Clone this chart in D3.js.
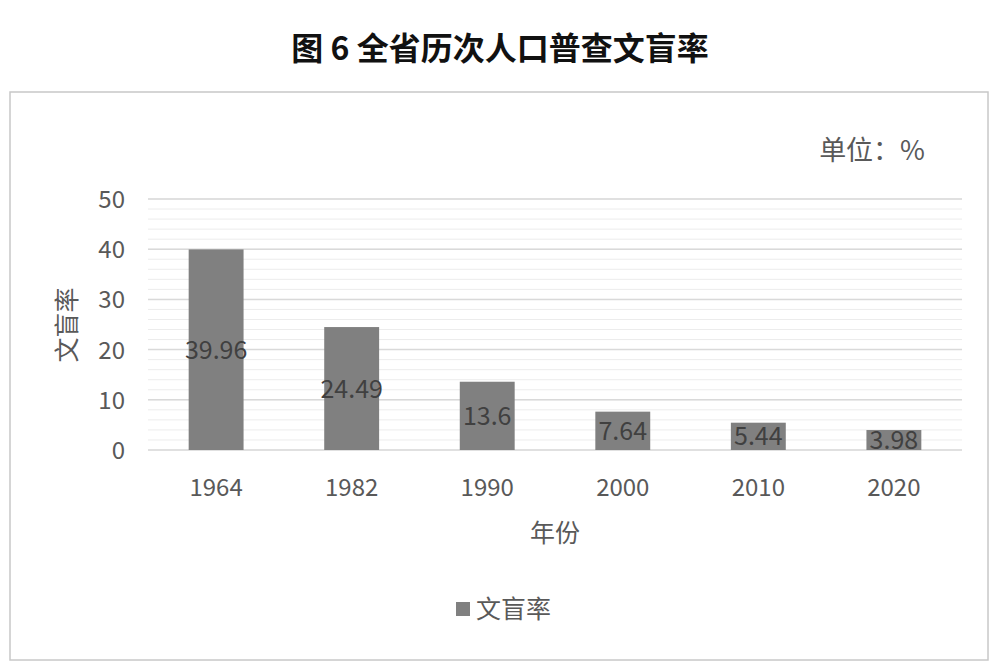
<!DOCTYPE html>
<html><head><meta charset="utf-8">
<script src="https://cdnjs.cloudflare.com/ajax/libs/d3/7.8.5/d3.min.js"></script>
<style>body{margin:0;background:#fff}text{font-family:"Noto Sans CJK SC","Noto Sans",sans-serif}</style>
</head><body><div id="graph"></div>
<script>
var years = ["1964", "1982", "1990", "2000", "2010", "2020"];
var rates = [39.96, 24.49, 13.6, 7.64, 5.44, 3.98];
var yTicks = [0, 10, 20, 30, 40, 50];

var svg = d3.select('#graph').append('svg').attr('width', 1000).attr('height', 669);

svg.append('text').attr('x', 500).attr('y', 60).attr('text-anchor', 'middle')
	.attr('font-size', 32).attr('font-weight', 'bold').attr('fill', '#111').text('图 6  全省历次人口普查文盲率');

svg.append('rect').attr('x', 10).attr('y', 92).attr('width', 978).attr('height', 568)
	.attr('fill', 'none').attr('stroke', '#c8c8c8').attr('stroke-width', 1.5);

svg.append('text').attr('x', 925).attr('y', 160).attr('text-anchor', 'end')
	.attr('font-size', 27).attr('fill', '#595959').text('单位：%');

var x = d3.scaleBand().domain(years).range([148, 962]).paddingInner(0.595).paddingOuter(0.3);
var y = d3.scaleLinear().domain([0, 50]).range([450, 199]);

// minor gridlines every 2
svg.selectAll('line.minor').data(d3.range(0, 51, 2)).enter().append('line')
	.attr('x1', 148).attr('x2', 962).attr('y1', d => y(d)).attr('y2', d => y(d))
	.attr('stroke', '#ececec').attr('stroke-width', 1);
svg.selectAll('line.major').data(yTicks).enter().append('line')
	.attr('x1', 148).attr('x2', 962).attr('y1', d => y(d)).attr('y2', d => y(d))
	.attr('stroke', '#d9d9d9').attr('stroke-width', 1.5);

svg.selectAll('text.yt').data(yTicks).enter().append('text')
	.attr('x', 125).attr('y', d => y(d) + 9).attr('text-anchor', 'end')
	.attr('font-size', 24).attr('fill', '#595959').text(d => d);

svg.selectAll('rect.bar').data(rates).enter().append('rect')
	.attr('x', (d, i) => x(years[i])).attr('width', x.bandwidth())
	.attr('y', d => y(d)).attr('height', d => y(0) - y(d)).attr('fill', '#808080');

svg.selectAll('text.lbl').data(rates).enter().append('text')
	.attr('x', (d, i) => x(years[i]) + x.bandwidth() / 2).attr('y', d => y(d / 2) + 9)
	.attr('text-anchor', 'middle').attr('font-size', 25).attr('fill', '#404040').text(d => d);

svg.selectAll('text.xt').data(years).enter().append('text')
	.attr('x', d => x(d) + x.bandwidth() / 2).attr('y', 496).attr('text-anchor', 'middle')
	.attr('font-size', 24).attr('fill', '#595959').text(d => d);

svg.append('text').attr('x', 555).attr('y', 542).attr('text-anchor', 'middle')
	.attr('font-size', 25).attr('fill', '#595959').text('年份');

svg.append('text').attr('transform', 'translate(76,325) rotate(-90)').attr('text-anchor', 'middle')
	.attr('font-size', 25).attr('fill', '#595959').text('文盲率');

svg.append('rect').attr('x', 456).attr('y', 602).attr('width', 14).attr('height', 14).attr('fill', '#808080');
svg.append('text').attr('x', 476).attr('y', 618).attr('font-size', 25).attr('fill', '#595959').text('文盲率');
</script></body></html>
